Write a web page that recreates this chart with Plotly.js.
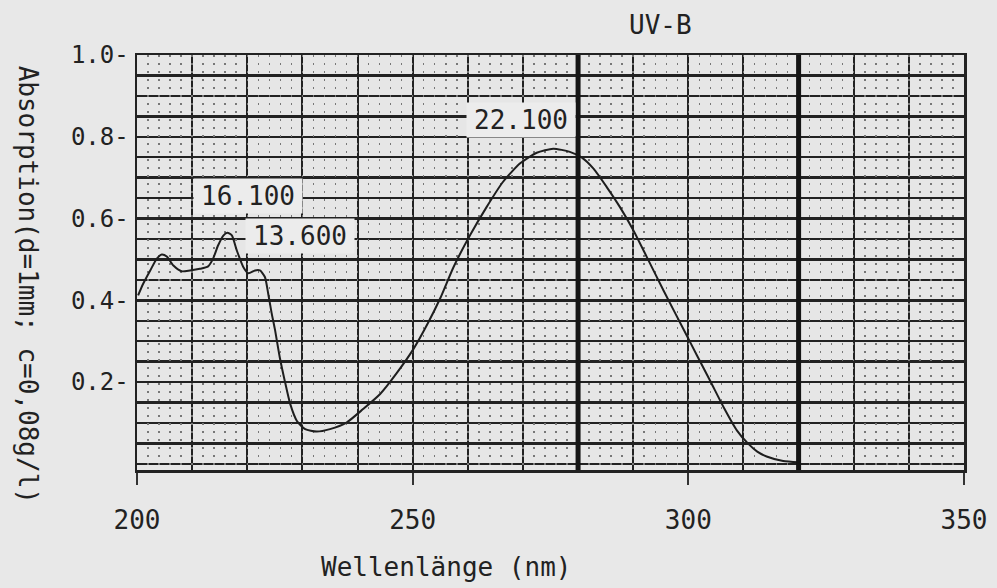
<!DOCTYPE html>
<html>
<head>
<meta charset="utf-8">
<script src="https://cdn.plot.ly/plotly-3.0.1.min.js"></script>
<style>html,body{margin:0;padding:0;background:#e8e8e8;}</style>
</head>
<body>
<div id="chart" style="width:997px;height:588px;"></div>
<script>
// Wavelength (nm)
var wavelength = [200.2, 201.1, 202.4, 203.6, 204.5, 205.4, 206.6, 208.1, 209.6, 211.4, 212.9, 213.8, 214.7, 215.7, 216.4, 217.2, 218.1, 219.3, 220.2, 221.4, 222.3, 223.2, 223.8, 224.4, 225.0, 225.9, 226.8, 227.8, 229.0, 230.5, 232.6, 235.0, 238.0, 241.0, 244.1, 247.1, 250.1, 252.8, 255.0, 257.4, 260.4, 263.4, 266.4, 269.5, 272.5, 275.5, 278.5, 280.7, 282.8, 285.2, 287.6, 290.0, 292.5, 295.5, 299.1, 301.5, 304.0, 306.5, 308.8, 310.8, 312.5, 314.2, 317.2, 320.0];
// Absorption
var absorption = [0.412, 0.44, 0.473, 0.502, 0.512, 0.507, 0.485, 0.471, 0.473, 0.477, 0.483, 0.502, 0.534, 0.559, 0.565, 0.559, 0.522, 0.481, 0.466, 0.473, 0.473, 0.457, 0.416, 0.37, 0.33, 0.26, 0.203, 0.146, 0.105, 0.085, 0.079, 0.085, 0.101, 0.134, 0.171, 0.222, 0.28, 0.345, 0.405, 0.481, 0.559, 0.628, 0.69, 0.735, 0.761, 0.771, 0.763, 0.749, 0.722, 0.677, 0.628, 0.572, 0.505, 0.424, 0.33, 0.267, 0.202, 0.136, 0.082, 0.05, 0.03, 0.018, 0.007, 0.004];

var xTickVals = [200, 250, 300, 350];
var xTickText = ['200', '250', '300', '350'];
var yTickVals = [0.2, 0.4, 0.6, 0.8, 1.0];
var yTickText = ['0.2-', '0.4-', '0.6-', '0.8-', '1.0-'];
var uvbBounds = [280, 320];

var peakLabels = ['16.100', '13.600', '22.100'];
var peakLabelX = [220.1, 229.6, 269.7];
var peakLabelY = [0.655, 0.557, 0.841];

var MONO = 'DejaVu Sans Mono, Liberation Mono, monospace';
var INK = '#222222';

var trace = {
  x: wavelength, y: absorption, type: 'scatter', mode: 'lines',
  line: {color: '#1e1e1e', width: 2, shape: 'spline', smoothing: 0.6},
  hoverinfo: 'skip', showlegend: false
};
// empty trace so the overlaying (dotted paper texture) axis is drawn
var paperTexture = {x: [], y: [], type: 'scatter', mode: 'lines', xaxis: 'x2', yaxis: 'y',
  hoverinfo: 'skip', showlegend: false};

var annotations = [
  {text: 'UV-B', xref: 'x', yref: 'paper', x: 295, y: 1.072, showarrow: false,
   font: {family: MONO, size: 26, color: INK}, xanchor: 'center', yanchor: 'middle'},
  {text: 'Wellenlänge (nm)', xref: 'paper', yref: 'paper', x: 0.374, y: -0.234, showarrow: false,
   font: {family: MONO, size: 26, color: INK}, xanchor: 'center', yanchor: 'middle'},
  {text: 'Absorption(d=1mm; c=0,08g/l)', xref: 'paper', yref: 'paper', x: -0.132, y: 0.447,
   showarrow: false, textangle: 90,
   font: {family: MONO, size: 26, color: INK}, xanchor: 'center', yanchor: 'middle'}
];
for (var i = 0; i < peakLabels.length; i++) {
  annotations.push({
    text: peakLabels[i], xref: 'x', yref: 'y', x: peakLabelX[i], y: peakLabelY[i],
    showarrow: false, font: {family: MONO, size: 26, color: INK},
    bgcolor: '#ececec', borderpad: 2, width: 104, height: 30,
    xanchor: 'center', yanchor: 'middle'
  });
}

var shapes = uvbBounds.map(function (v) {
  return {type: 'line', xref: 'x', yref: 'paper', x0: v, x1: v, y0: 0, y1: 1,
          line: {color: '#151515', width: 5}, layer: 'above'};
});

var layout = {
  width: 997, height: 588,
  margin: {l: 137, r: 33, t: 55, b: 118},
  paper_bgcolor: '#e8e8e8', plot_bgcolor: '#e6e6e6',
  showlegend: false,
  xaxis: {
    range: [200, 350], tickmode: 'array', tickvals: xTickVals, ticktext: xTickText,
    showgrid: true, gridcolor: INK, gridwidth: 2,
    minor: {dtick: 10, tick0: 200, showgrid: true, gridcolor: INK, gridwidth: 2, ticks: ''},
    showline: true, mirror: true, linecolor: INK, linewidth: 2.5,
    ticks: 'outside', ticklen: 12, tickwidth: 2, tickcolor: '#333',
    ticklabelstandoff: 13, zeroline: false,
    tickfont: {family: MONO, size: 26, color: INK}
  },
  xaxis2: {
    overlaying: 'x', range: [200, 350], tickmode: 'linear', dtick: 2, tick0: 200,
    showgrid: true, gridcolor: '#777777', gridwidth: 1.5, griddash: '2px,6px',
    showticklabels: false, ticks: '', zeroline: false, showline: false
  },
  yaxis: {
    range: [-0.015, 1.0], tickmode: 'array', tickvals: yTickVals, ticktext: yTickText,
    showgrid: true, gridcolor: INK, gridwidth: 2.5,
    minor: {dtick: 0.05, tick0: 0, showgrid: true, gridcolor: INK, gridwidth: 2.5, ticks: ''},
    showline: true, mirror: true, linecolor: INK, linewidth: 2.5,
    ticks: '', ticklabelstandoff: 1, zeroline: false,
    tickfont: {family: MONO, size: 24, color: INK}
  },
  annotations: annotations,
  shapes: shapes
};

Plotly.newPlot('chart', [paperTexture, trace], layout, {displayModeBar: false, staticPlot: true});
</script>
</body>
</html>
